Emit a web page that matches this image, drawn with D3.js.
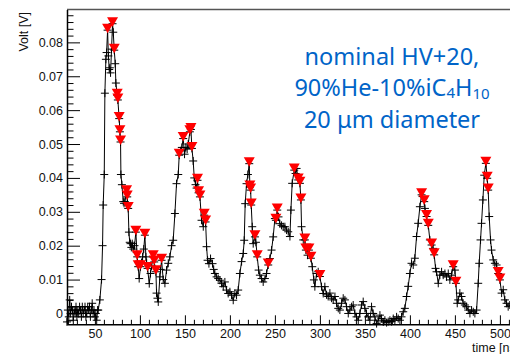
<!DOCTYPE html>
<html>
<head>
<meta charset="utf-8">
<script src="https://cdn.jsdelivr.net/npm/d3@7"></script>
<style>
  body { margin: 0; background: #fff; }
  svg { display: block; }
</style>
</head>
<body>
<svg id="chart" width="510" height="354"></svg>
<script>
// waveform samples
const baseTime = [19,20,21,22,23,24,25,26,27,28,29,30,31,32,33,34,35,36,37,38,39,40,41,42,43,44,45,46,47,48,49,50,51,52,53]
const baseVolt = [-0.0025,0.001,-0.001,0.004,0.000,0.002,0.001,-0.002,0.001,0.000,0.002,-0.001,0.001,0.000,0.002,0.001,-0.001,0.002,0.000,0.001,0.002,-0.001,0.000,0.002,0.001,0.002,-0.001,0.001,0.003,0.000,0.001,-0.001,0.000,-0.002,0.001]

const pulseTime = [53.7,55.5,57.4,58.5,59.2,60.4,61.1,62.2,63.0,64.1,65.0,65.9,66.6,67.4,68.5,69.6,70.4,71.5,72.6,73.3,74.8,75.5,77.0,77.8,78.5,78.9,80.0,81.5,82.4,83.3,85.2,85.9,87.0,87.8,88.7,89.6,90.5,91.5,92.6,94.0,95.5,97.0,98.1,99.2,100.7,101.8,103.0,104.3,105.5,106.7,107.5,108.5,110.4,111.8,113.0,114.8,115.9,117.8,118.5,119.5,120.4,122.2,123.0,124.1,125.9,127.8,129.6,131.5,133.3,135.2,137.0,138.9,140.7,142.6,143.7,145.2,146.6,148.1,149.6,151.1,152.5,153.7,155.5,156.7,157.8,159.2,160.4,161.8,163.0,164.0,165.2,166.7,168.5,170.4,171.5,173.0,174.1,175.2,176.7,178.5,180.7,182.0,183.3,185.2,187.0,188.9,190.7,192.6,194.4,196.3,198.1,200.0,201.8,203.7,205.5,207.4,209.2,211.1,213.0,214.8,215.9,217.0,218.5,220.0,221.5,222.2,223.0,223.7,224.8,225.9,227.8,228.9,230.4,231.9,233.3,235.2,237.0,238.9,240.7,242.6,244.4,246.3,248.1,250.0,251.1,252.6,254.0,255.5,257.4,259.2,261.1]
const pulseVolt = [0.001,0.004,0.010,0.020,0.032,0.041,0.065,0.075,0.077,0.0836,0.076,0.072,0.0725,0.071,0.078,0.0855,0.083,0.0777,0.0737,0.068,0.0644,0.063,0.0575,0.0536,0.0506,0.041,0.038,0.033,0.0325,0.033,0.0359,0.0344,0.031,0.024,0.021,0.0206,0.0195,0.0206,0.019,0.020,0.024,0.0167,0.0138,0.0103,0.0138,0.015,0.0167,0.019,0.0231,0.0167,0.015,0.0133,0.0088,0.0118,0.014,0.0167,0.0152,0.0123,0.006,0.0045,0.0034,0.0108,0.013,0.0157,0.010,0.0089,0.0128,0.0148,0.0167,0.020,0.0216,0.0295,0.0383,0.041,0.0467,0.048,0.049,0.0516,0.047,0.049,0.0485,0.050,0.0536,0.0543,0.0487,0.045,0.040,0.038,0.037,0.0393,0.0356,0.0344,0.0275,0.0256,0.029,0.027,0.0197,0.0157,0.0147,0.0162,0.0147,0.013,0.0118,0.0108,0.0103,0.0098,0.0089,0.0079,0.0093,0.0069,0.0059,0.0064,0.0054,0.0039,0.0059,0.0054,0.0069,0.0118,0.0153,0.0177,0.0216,0.0324,0.0383,0.041,0.0442,0.0373,0.0364,0.032,0.0256,0.0206,0.0226,0.021,0.0167,0.0128,0.0113,0.0103,0.0093,0.0103,0.0118,0.0143,0.0162,0.0187,0.0226,0.028,0.0275,0.0305,0.0285,0.0265,0.026,0.0256,0.0256]

const tailTime = [263.0,264.8,266.7,267.8,269.2,271.5,273.0,274.1,275.9,277.8,278.9,279.6,281.5,283.3,284.4,286.3,287.8,290.0,291.5,293.3,294.4,296.3,298.1,300.0,301.8,303.7,305.5,307.4,309.2,311.1,313.0,314.8,316.7,318.5,320.4,322.2,324.1,325.9,327.8,329.6,331.5,333.3,335.2,337.0,338.9,340.7,342.6,344.4,346.3,348.1,350.0,351.8,353.7,355.5,357.4,359.2,361.1,363.0,364.8,366.7,368.5,370.4,372.2,374.1,375.9,377.8,379.6,381.5,383.3,385.2,387.0,388.9,390.7,392.6,394.4,396.3,398.1,400.0,401.8,403.7,405.5,407.4,409.2,411.1,413.0,414.1,415.9,416.7,418.5,420.4,422.2,424.1,425.9,427.0,428.5,429.6,431.5,433.3,435.2,437.0,438.9,440.7,442.6,444.4,446.3,448.1,450.0,451.1,452.6,453.7,455.5,457.4,459.2,461.1,463.0,464.8,466.7,468.5,470.4,472.2,474.1,475.9,477.0,478.5,479.6,481.1,482.6,484.4,485.9,487.0,488.1,489.6,490.7,492.6,494.4,496.3,498.1,500.0,501.9,503.7,505.5,507.4,509.2,511.0]
const tailVolt = [0.0246,0.0241,0.0227,0.0305,0.0384,0.0423,0.0413,0.0428,0.0394,0.0384,0.0335,0.0256,0.0217,0.0217,0.0187,0.0172,0.0187,0.0163,0.0138,0.0099,0.0079,0.0118,0.0123,0.0109,0.0079,0.0059,0.0079,0.0055,0.005,0.006,0.0045,0.004,0.005,0.003,0.0015,0.001,0.003,0.0045,0.004,0.002,0.000,0.001,0.002,0.0025,0.000,-0.001,-0.002,0.000,0.0025,0.0035,0.0015,0.000,-0.001,-0.002,0.002,0.000,-0.001,-0.003,-0.002,-0.0005,-0.0015,-0.0025,-0.002,-0.0027,-0.0024,-0.002,-0.0024,-0.0015,-0.002,-0.001,-0.0015,-0.002,-0.001,0.0005,0.0015,0.005,0.008,0.0118,0.0148,0.0143,0.0163,0.0227,0.0266,0.0315,0.035,0.0345,0.033,0.031,0.0286,0.026,0.0217,0.0202,0.0192,0.0173,0.0133,0.0123,0.0089,0.0113,0.0123,0.0113,0.0118,0.0108,0.0118,0.0099,0.0113,0.0138,0.0128,0.0089,0.003,0.004,0.006,0.005,0.003,0.0025,0.002,0.001,0.000,0.001,0.0005,0.000,0.001,0.0089,0.0148,0.0217,0.0266,0.0335,0.0408,0.0443,0.0399,0.0364,0.0286,0.0217,0.0187,0.0158,0.0148,0.0143,0.0118,0.0099,0.006,0.007,0.004,0.003,0.002,0.0025]

// peaks flagged by the search (red markers)
const peakTime = [64.1,69.6,71.5,74.8,75.5,77.0,77.8,78.5,85.2,85.9,87.0,95.5,97.0,98.1,100.7,105.5,108.5,114.8,115.9,117.8,124.1,143.7,148.1,155.5,156.7,157.8,164.0,165.2,166.7,171.5,173.0,221.5,222.2,223.0,223.7,227.8,230.4,242.6,251.1,252.6,271.5,275.9,277.8,278.9,283.3,284.4,287.8,290.0,300.0,413.0,415.9,418.5,420.4,424.1,427.0,448.1,451.1,484.4,485.9,487.0,498.1,500.0]
const peakVolt = [0.0836,0.0855,0.0777,0.0644,0.063,0.0575,0.0536,0.0506,0.0359,0.0344,0.031,0.024,0.0167,0.0138,0.0138,0.0231,0.0133,0.0167,0.0152,0.0123,0.0157,0.0467,0.0516,0.0536,0.0543,0.0487,0.0393,0.0356,0.0344,0.029,0.027,0.0442,0.0373,0.0364,0.032,0.0226,0.0167,0.0143,0.0275,0.0305,0.0423,0.0394,0.0384,0.0335,0.0217,0.0187,0.0187,0.0163,0.0109,0.035,0.033,0.0286,0.026,0.0202,0.0173,0.0138,0.0089,0.0443,0.0399,0.0364,0.0118,0.0099]

const yMajor = [0, 0.01, 0.02, 0.03, 0.04, 0.05, 0.06, 0.07, 0.08]
const xMajor = [50, 100, 150, 200, 250, 300, 350, 400, 450, 500]
const textLines = ["nominal HV+20,", "90%He-10%iC₄H₁₀", "20 μm diameter"]

const time = baseTime.concat(pulseTime, tailTime)
const volt = baseVolt.concat(pulseVolt, tailVolt)
const samples = time.map((t, i) => ({ t: t, v: volt[i] }))
const peaks = peakTime.map((t, i) => ({ t: t, v: peakVolt[i] }))

const svg = d3.select("#chart")
const font = "'Liberation Sans', Arial, sans-serif"

const x = d3.scaleLinear().domain([19, 525]).range([67, 522.4])
const y = d3.scaleLinear().domain([-0.0032, 0.0897]).range([324.3, 9.5])

svg.append("rect").attr("width", 510).attr("height", 354).attr("fill", "#fff")

// frame top edge
svg.append("line")
  .attr("x1", 67).attr("x2", 525).attr("y1", 9.5).attr("y2", 9.5)
  .attr("stroke", "#555").attr("stroke-width", 1.5)

// y axis: minor ticks then major with labels
const yMinor = d3.range(-0.002, 0.0897, 0.002).filter(v => Math.abs(Math.round(v * 100) - v * 100) > 1e-6)
svg.append("g").attr("transform", "translate(67,0)")
  .call(d3.axisRight(y).tickValues(yMinor).tickSize(6.5).tickSizeOuter(0).tickFormat(""))
  .call(g => g.select(".domain").remove())
svg.append("g").attr("class", "yAxis").attr("transform", "translate(67,0)")
  .call(d3.axisLeft(y).tickValues(yMajor).tickSize(-13).tickSizeOuter(0).tickPadding(4)
    .tickFormat(d => d === 0 ? "0" : d3.format(".2f")(d)))
  .call(g => g.select(".domain").attr("stroke-width", 1.5))

// x axis
const xMinor = d3.range(20, 525, 10).filter(v => v % 50 !== 0)
svg.append("g").attr("transform", "translate(0,324.3)")
  .call(d3.axisTop(x).tickValues(xMinor).tickSize(4.5).tickSizeOuter(0).tickFormat(""))
  .call(g => g.select(".domain").remove())
svg.append("g").attr("class", "xAxis").attr("transform", "translate(0,324.3)")
  .call(d3.axisBottom(x).tickValues(xMajor).tickSize(-9).tickSizeOuter(0).tickPadding(5))
  .call(g => g.select(".domain").attr("stroke-width", 1.5))

svg.selectAll(".tick line").attr("stroke", "#000")
svg.selectAll(".tick text").attr("font-family", font).attr("font-size", 12.5).attr("fill", "#111")

// axis titles
svg.append("text")
  .attr("transform", "translate(28,12) rotate(-90)")
  .attr("text-anchor", "end")
  .attr("font-family", font).attr("font-size", 12.5).attr("fill", "#111")
  .text("Volt [V]")
svg.append("text")
  .attr("x", 472).attr("y", 351.5)
  .attr("font-family", font).attr("font-size", 12.5).attr("fill", "#111")
  .text("time [ns]")

// waveform
const line = d3.line().x(d => x(d.t)).y(d => y(d.v))
svg.append("path").datum(samples)
  .attr("d", line).attr("fill", "none").attr("stroke", "#000").attr("stroke-width", 1)

svg.append("g").selectAll("path.cross").data(samples).enter()
  .append("path").attr("class", "cross")
  .attr("transform", d => "translate(" + x(d.t) + "," + y(d.v) + ")")
  .attr("d", "M-4,0H4M0,-4V4")
  .attr("stroke", "#000").attr("stroke-width", 1)

svg.append("g").selectAll("path.peak").data(peaks).enter()
  .append("path").attr("class", "peak")
  .attr("transform", d => "translate(" + x(d.t) + "," + (y(d.v) - 2) + ")")
  .attr("d", "M-5.5,-4.5L5.5,-4.5L0,5Z")
  .attr("fill", "#ff0000")

// annotation
const note = svg.append("g")
  .attr("font-family", "'Noto Sans', sans-serif").attr("font-size", 23.5)
  .attr("fill", "#0064c8").attr("text-anchor", "middle")
note.append("text").attr("x", 392).attr("y", 65).text(textLines[0])
const l2 = note.append("text").attr("x", 392).attr("y", 95.5)
l2.append("tspan").text("90%He-10%iC")
l2.append("tspan").attr("font-size", 15).attr("dy", 2).text("4")
l2.append("tspan").attr("dy", -2).text("H")
l2.append("tspan").attr("font-size", 15).attr("dy", 3).text("10")
note.append("text").attr("x", 392).attr("y", 128).text(textLines[2])
</script>
</body>
</html>
